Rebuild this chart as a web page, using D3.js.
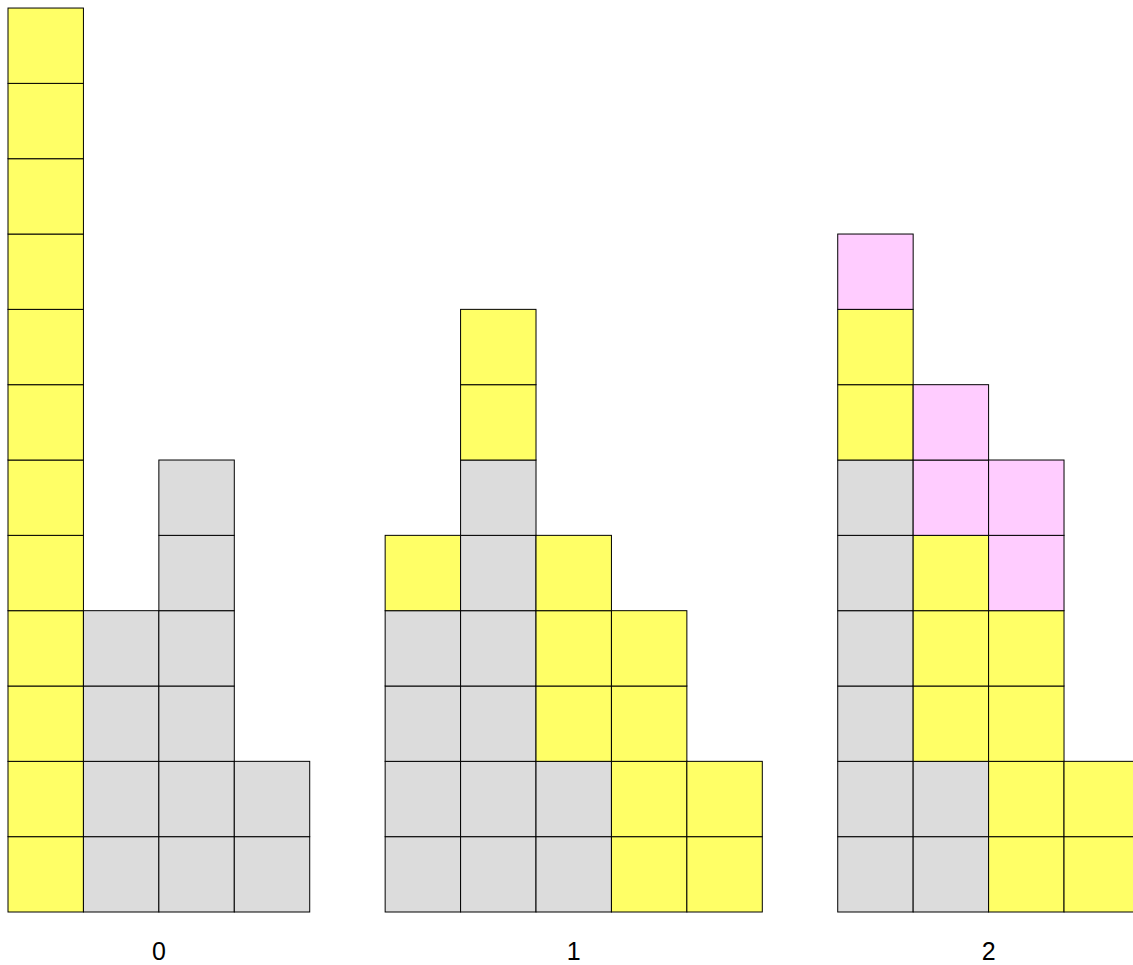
<!DOCTYPE html>
<html>
<head>
<meta charset="utf-8">
<script src="https://cdn.jsdelivr.net/npm/d3@7"></script>
<style>
body { margin: 0; background: #fff; }
</style>
</head>
<body>
<script>
// groups shown along the bottom, each has several stacked columns
const groups = ['0', '1', '2']
// counts per column, stacked bottom to top: grey, then yellow, then pink
const grey   = [[0, 4, 6, 2], [4, 6, 2, 0, 0], [6, 2, 0, 0]]
const yellow = [[12, 0, 0, 0], [1, 2, 3, 4, 2], [2, 3, 4, 2]]
const pink   = [[0, 0, 0, 0], [0, 0, 0, 0, 0], [1, 2, 2, 0]]
const maxRows = 12

const colors = {grey: '#dcdcdc', yellow: '#ffff66', pink: '#ffccff'}

const width = 1133, height = 965
const cellW = 75.43, cellH = 75.33
const left = 8, bottom = 912

// lay out the columns in slots, with an empty slot between groups
let cols = [], slot = 0, groupSpan = []
groups.forEach((g, gi) => {
	const start = slot
	grey[gi].forEach((_, ci) => {
		cols.push({group: g, slot: slot, grey: grey[gi][ci], yellow: yellow[gi][ci], pink: pink[gi][ci]})
		slot++
	})
	groupSpan.push({group: g, start: start, end: slot - 1})
	slot++ // gap
})

const xScale = d3.scaleBand()
	.domain(d3.range(slot))
	.range([left, left + slot * cellW])
	.padding(0)

const yScale = d3.scaleLinear()
	.domain([0, maxRows])
	.range([bottom, bottom - maxRows * cellH])

// one rect per unit
let cells = []
cols.forEach(c => {
	let k = 0
	;['grey', 'yellow', 'pink'].forEach(key => {
		for (let i = 0; i < c[key]; i++) {
			cells.push({slot: c.slot, row: k, kind: key})
			k++
		}
	})
})

const svg = d3.select('body').append('svg')
	.attr('width', width)
	.attr('height', height)

svg.append('g')
	.attr('stroke', 'black')
	.attr('stroke-width', 1)
	.selectAll('rect')
	.data(cells)
	.join('rect')
	.attr('x', d => xScale(d.slot))
	.attr('y', d => yScale(d.row + 1))
	.attr('width', xScale.bandwidth())
	.attr('height', d => yScale(d.row) - yScale(d.row + 1))
	.attr('fill', d => colors[d.kind])

svg.append('g')
	.attr('font-family', 'Liberation Sans, Arial, sans-serif')
	.attr('font-size', 25)
	.attr('text-anchor', 'middle')
	.selectAll('text')
	.data(groupSpan)
	.join('text')
	.attr('x', d => (xScale(d.start) + xScale(d.end) + xScale.bandwidth()) / 2)
	.attr('y', bottom + 48)
	.text(d => d.group)
</script>
</body>
</html>
